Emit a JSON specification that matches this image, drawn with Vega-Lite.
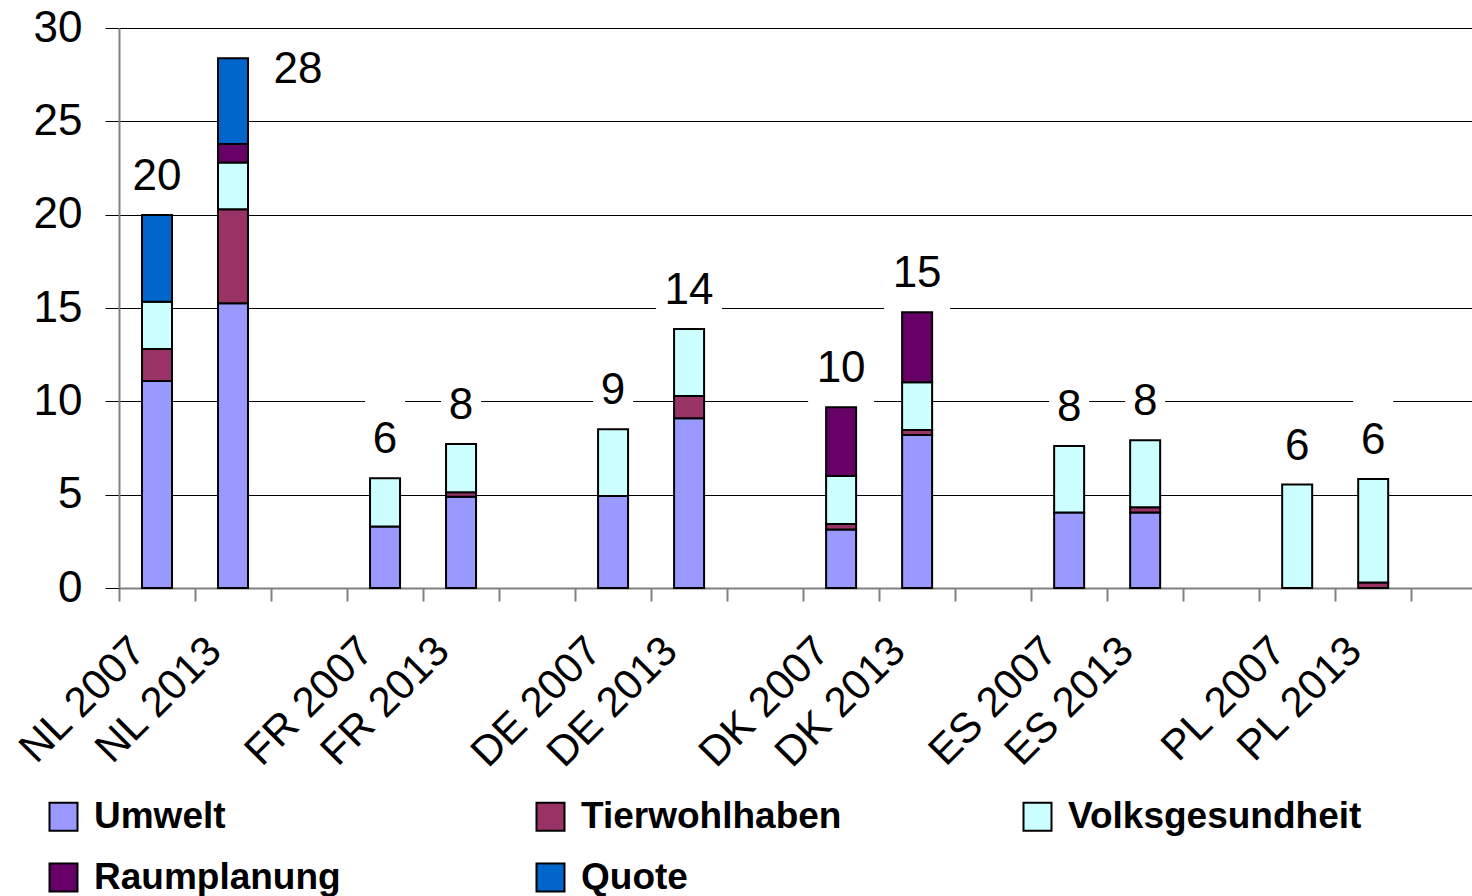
{
  "$schema": "https://vega.github.io/schema/vega-lite/v6.json",
  "width": 1353,
  "height": 560,
  "autosize": {"type": "none"},
  "padding": {"left": 119, "top": 28, "right": 0, "bottom": 308},
  "background": "white",
  "config": {
    "view": {"stroke": null},
    "font": "Liberation Sans",
    "axisY": {
      "title": null,
      "labelFont": "Liberation Sans",
      "labelFontSize": 44,
      "labelColor": "black",
      "labelPadding": 23,
      "labelOverlap": false,
      "labelBound": false,
      "labelFlush": false,
      "domainColor": "#808080",
      "domainWidth": 2,
      "tickColor": "#000000",
      "tickWidth": 1,
      "tickSize": 14,
      "grid": true,
      "gridColor": "#000000",
      "gridWidth": 1,
      "gridOpacity": 1
    }
  },
  "datasets": {
    "segments": [
      {"cat": "NL 2007", "type": "Umwelt", "value": 11.09},
      {"cat": "NL 2007", "type": "Tierwohlhaben", "value": 1.71},
      {"cat": "NL 2007", "type": "Volksgesundheit", "value": 2.54},
      {"cat": "NL 2007", "type": "Quote", "value": 4.64},
      {"cat": "NL 2013", "type": "Umwelt", "value": 15.25},
      {"cat": "NL 2013", "type": "Tierwohlhaben", "value": 5.04},
      {"cat": "NL 2013", "type": "Volksgesundheit", "value": 2.51},
      {"cat": "NL 2013", "type": "Raumplanung", "value": 0.99},
      {"cat": "NL 2013", "type": "Quote", "value": 4.59},
      {"cat": "FR 2007", "type": "Umwelt", "value": 3.29},
      {"cat": "FR 2007", "type": "Volksgesundheit", "value": 2.59},
      {"cat": "FR 2013", "type": "Umwelt", "value": 4.89},
      {"cat": "FR 2013", "type": "Tierwohlhaben", "value": 0.24},
      {"cat": "FR 2013", "type": "Volksgesundheit", "value": 2.58},
      {"cat": "DE 2007", "type": "Umwelt", "value": 4.93},
      {"cat": "DE 2007", "type": "Volksgesundheit", "value": 3.57},
      {"cat": "DE 2013", "type": "Umwelt", "value": 9.09},
      {"cat": "DE 2013", "type": "Tierwohlhaben", "value": 1.2},
      {"cat": "DE 2013", "type": "Volksgesundheit", "value": 3.59},
      {"cat": "DK 2007", "type": "Umwelt", "value": 3.14},
      {"cat": "DK 2007", "type": "Tierwohlhaben", "value": 0.29},
      {"cat": "DK 2007", "type": "Volksgesundheit", "value": 2.57},
      {"cat": "DK 2007", "type": "Raumplanung", "value": 3.68},
      {"cat": "DK 2013", "type": "Umwelt", "value": 8.2},
      {"cat": "DK 2013", "type": "Tierwohlhaben", "value": 0.26},
      {"cat": "DK 2013", "type": "Volksgesundheit", "value": 2.56},
      {"cat": "DK 2013", "type": "Raumplanung", "value": 3.75},
      {"cat": "ES 2007", "type": "Umwelt", "value": 4.04},
      {"cat": "ES 2007", "type": "Volksgesundheit", "value": 3.57},
      {"cat": "ES 2013", "type": "Umwelt", "value": 4.04},
      {"cat": "ES 2013", "type": "Tierwohlhaben", "value": 0.28},
      {"cat": "ES 2013", "type": "Volksgesundheit", "value": 3.59},
      {"cat": "PL 2007", "type": "Volksgesundheit", "value": 5.54},
      {"cat": "PL 2013", "type": "Tierwohlhaben", "value": 0.29},
      {"cat": "PL 2013", "type": "Volksgesundheit", "value": 5.55}
    ],
    "totals": [
      {"cat": "NL 2007", "label": 20},
      {"cat": "NL 2013", "label": 28},
      {"cat": "FR 2007", "label": 6},
      {"cat": "FR 2013", "label": 8},
      {"cat": "DE 2007", "label": 9},
      {"cat": "DE 2013", "label": 14},
      {"cat": "DK 2007", "label": 10},
      {"cat": "DK 2013", "label": 15},
      {"cat": "ES 2007", "label": 8},
      {"cat": "ES 2013", "label": 8},
      {"cat": "PL 2007", "label": 6},
      {"cat": "PL 2013", "label": 6}
    ]
  },
  "encoding": {
    "x": {
      "field": "cat",
      "type": "nominal",
      "sort": null,
      "scale": {
        "domain": ["NL 2007", "NL 2013", "gap1", "FR 2007", "FR 2013", "gap2", "DE 2007", "DE 2013", "gap3", "DK 2007", "DK 2013", "gap4", "ES 2007", "ES 2013", "gap5", "PL 2007", "PL 2013"],
        "paddingInner": 0,
        "paddingOuter": 0.4,
        "align": 0
      },
      "axis": {
        "title": null,
        "tickBand": "extent",
        "labelAngle": -45,
        "labelAlign": "right",
        "labelBaseline": "alphabetic",
        "labelFont": "Liberation Sans",
        "labelFontSize": 42,
        "labelColor": "black",
        "labelPadding": 52,
        "labelOffset": -10,
        "labelOverlap": false,
        "labelBound": false,
        "labelFlush": false,
        "labelExpr": "substring(datum.label, 0, 3) == 'gap' ? '' : datum.label",
        "domainColor": "#808080",
        "domainWidth": 2,
        "tickColor": "#808080",
        "tickWidth": 2,
        "tickSize": 13,
        "grid": false
      }
    }
  },
  "layer": [
    {
      "data": {"name": "segments"},
      "transform": [
        {"aggregate": [{"op": "sum", "field": "value", "as": "top"}], "groupby": ["cat"]},
        {"lookup": "cat", "from": {"data": {"name": "totals"}, "key": "cat", "fields": ["label"]}},
        {"filter": "datum.cat != 'NL 2013'"}
      ],
      "mark": {"type": "point", "filled": true, "color": "white", "opacity": 1, "size": 10000, "strokeWidth": 0},
      "encoding": {
        "y": {"field": "top", "type": "quantitative", "scale": {"domain": [0, 30], "nice": false, "zero": true}, "axis": {"values": [0, 5, 10, 15, 20, 25, 30]}},
        "shape": {
          "condition": {"test": "datum.label >= 10", "value": "M-0.66,-1.56L0.66,-1.56L0.66,-0.04L-0.66,-0.04Z"},
          "value": "M-0.4,-1.56L0.4,-1.56L0.4,-0.04L-0.4,-0.04Z"
        }
      }
    },
    {
      "data": {"name": "segments"},
      "transform": [
        {"calculate": "indexof(['Umwelt', 'Tierwohlhaben', 'Volksgesundheit', 'Raumplanung', 'Quote'], datum.type)", "as": "stackOrder"}
      ],
      "mark": {"type": "bar", "size": 30, "stroke": "black", "strokeWidth": 2},
      "encoding": {
        "y": {
          "field": "value",
          "type": "quantitative",
          "stack": "zero",
          "scale": {"domain": [0, 30], "nice": false, "zero": true},
          "axis": {"values": [0, 5, 10, 15, 20, 25, 30]}
        },
        "order": {"field": "stackOrder", "type": "quantitative", "sort": "ascending"},
        "color": {
          "field": "type",
          "type": "nominal",
          "sort": ["Umwelt", "Tierwohlhaben", "Volksgesundheit", "Raumplanung", "Quote"],
          "scale": {
            "domain": ["Umwelt", "Tierwohlhaben", "Volksgesundheit", "Raumplanung", "Quote"],
            "range": ["#9999FF", "#993366", "#CCFFFF", "#660066", "#0066CC"]
          },
          "legend": {
            "title": null,
            "orient": "none",
            "direction": "horizontal",
            "legendX": -74,
            "legendY": 770,
            "columns": 3,
            "gridAlign": "all",
            "columnPadding": 144,
            "rowPadding": 23,
            "padding": 0,
            "symbolType": "square",
            "symbolSize": 784,
            "symbolStrokeColor": "black",
            "symbolStrokeWidth": 2,
            "symbolOpacity": 1,
            "labelFont": "Liberation Sans",
            "labelFontWeight": "bold",
            "labelFontSize": 37,
            "labelColor": "black",
            "labelOffset": 12,
            "labelLimit": 600
          }
        }
      }
    },
    {
      "data": {"name": "segments"},
      "transform": [
        {"aggregate": [{"op": "sum", "field": "value", "as": "top"}], "groupby": ["cat"]},
        {"lookup": "cat", "from": {"data": {"name": "totals"}, "key": "cat", "fields": ["label"]}},
        {"filter": "datum.cat != 'NL 2013'"}
      ],
      "mark": {"type": "text", "font": "Liberation Sans", "fontSize": 44, "color": "black", "align": "center", "baseline": "alphabetic", "dy": -25},
      "encoding": {
        "y": {"field": "top", "type": "quantitative", "scale": {"domain": [0, 30], "nice": false, "zero": true}, "axis": {"values": [0, 5, 10, 15, 20, 25, 30]}},
        "text": {"field": "label", "type": "quantitative"}
      }
    },
    {
      "data": {"name": "segments"},
      "transform": [
        {"aggregate": [{"op": "sum", "field": "value", "as": "top"}], "groupby": ["cat"]},
        {"lookup": "cat", "from": {"data": {"name": "totals"}, "key": "cat", "fields": ["label"]}},
        {"filter": "datum.cat == 'NL 2013'"}
      ],
      "mark": {"type": "text", "font": "Liberation Sans", "fontSize": 44, "color": "black", "align": "center", "baseline": "alphabetic", "dx": 65, "dy": 25},
      "encoding": {
        "y": {"field": "top", "type": "quantitative", "scale": {"domain": [0, 30], "nice": false, "zero": true}, "axis": {"values": [0, 5, 10, 15, 20, 25, 30]}},
        "text": {"field": "label", "type": "quantitative"}
      }
    }
  ]
}
